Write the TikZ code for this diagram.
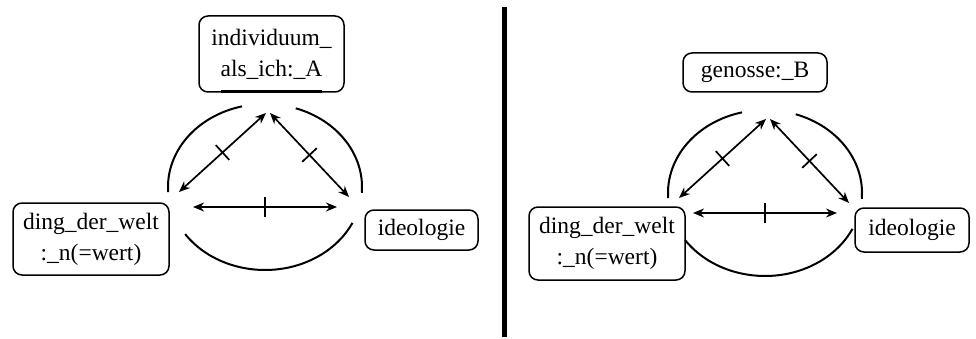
\documentclass[tikz,border=0pt]{standalone}
\usepackage{fontspec}
\setmainfont{Liberation Serif}
\usetikzlibrary{arrows.meta,decorations.markings}
\begin{document}
\begin{tikzpicture}[x=1pt,y=1pt,
  box/.style={draw, line width=1.5pt, rounded corners=9pt, inner sep=0pt, align=center,
    font=\fontsize{23.5}{31}\selectfont},
  ring/.style={line width=2pt},
  link/.style={line width=1.7pt, {Stealth[length=11pt,width=9pt]}-{Stealth[length=11pt,width=9pt]}},
  midtick/.style={decoration={markings, mark=at position 0.5 with {\draw[line width=1.7pt, arrows=-] (0,-10pt)--(0,10pt);}}, postaction=decorate}
]
\useasboundingbox (0,0) rectangle (976,338);
% separator
\draw[line width=5pt] (504,331) -- (504,1);

% ---------- left diagram ----------
\node[box, minimum width=145pt, minimum height=76pt] (indA) at (271.5,284) {individuum\_\\ als\_ich:\_A};
\draw[line width=3pt] (221,246) -- (322,246);
\node[box, minimum width=156pt, minimum height=72pt] (dingL) at (91,99) {ding\_der\_welt\\ :\_n(=wert)};
\node[box, minimum width=113pt, minimum height=40pt] (ideoL) at (421.5,108) {ideologie};

\coordinate (cL) at (265,151);
\draw[ring] ([shift={(103.7:97 and 83)}]cL) arc[start angle=103.7, end angle=183.5, x radius=97, y radius=83];
\draw[ring] ([shift={(-4:97 and 83)}]cL) arc[start angle=-4, end angle=71.5, x radius=97, y radius=83];
\draw[ring] ([shift={(214.6:97 and 83)}]cL) arc[start angle=214.6, end angle=334.4, x radius=97, y radius=83];

\coordinate (lt1) at (266,225); \coordinate (ll1) at (179,146);
\coordinate (lt2) at (270,225); \coordinate (lr2) at (349,141);
\coordinate (ll3) at (193,131); \coordinate (lr3) at (337,131);
\draw[link, midtick] (lt1) -- (ll1);
\draw[link, midtick] (lt2) -- (lr2);
\draw[link, midtick] (ll3) -- (lr3);

% ---------- right diagram ----------
\node[box, minimum width=144pt, minimum height=39pt] (genB) at (755,265.5) {genosse:\_B};
\node[box, minimum width=156pt, minimum height=73pt] (dingR) at (607,94.5) {ding\_der\_welt\\ :\_n(=wert)};
\node[box, minimum width=114pt, minimum height=44pt] (ideoR) at (912,108) {ideologie};

\coordinate (cR) at (765,145);
\draw[ring] ([shift={(103.7:97 and 83)}]cR) arc[start angle=103.7, end angle=183.5, x radius=97, y radius=83];
\draw[ring] ([shift={(-4:97 and 83)}]cR) arc[start angle=-4, end angle=71.5, x radius=97, y radius=83];
\draw[ring] ([shift={(214.6:97 and 83)}]cR) arc[start angle=214.6, end angle=334.4, x radius=97, y radius=83];

\coordinate (rt1) at (766,219); \coordinate (rl1) at (679,140);
\coordinate (rt2) at (770,219); \coordinate (rr2) at (849,135);
\coordinate (rl3) at (693,125); \coordinate (rr3) at (837,125);
\draw[link, midtick] (rt1) -- (rl1);
\draw[link, midtick] (rt2) -- (rr2);
\draw[link, midtick] (rl3) -- (rr3);
\end{tikzpicture}
\end{document}
